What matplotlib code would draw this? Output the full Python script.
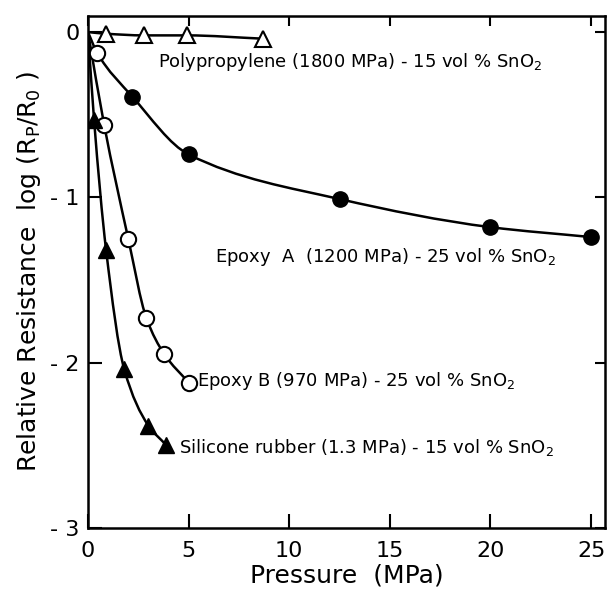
import numpy as np
import matplotlib
matplotlib.use("Agg")
from matplotlib import pyplot as plt
from matplotlib.path import Path
from matplotlib.patches import PathPatch

# pressure (MPa) and log(Rp/R0) for each composite
pp_x = [0, 0.9, 2.8, 4.9, 8.7]
pp_y = [0, -0.01, -0.02, -0.02, -0.04]

epa_x = [0, 0.45, 2.2, 5, 12.5, 20, 25]
epa_y = [0, -0.125, -0.39, -0.74, -1.01, -1.18, -1.24]
epa_open = [False, True, False, False, False, False, False]

epb_x = [0, 0.8, 2.0, 2.9, 3.8, 5.0]
epb_y = [0, -0.56, -1.25, -1.73, -1.95, -2.12]

si_x = [0, 0.3, 0.9, 1.8, 3.0, 3.9]
si_y = [0, -0.53, -1.32, -2.04, -2.38, -2.50]

labels = [
    "Polypropylene (1800 MPa) - 15 vol % SnO$_2$",
    "Epoxy  A  (1200 MPa) - 25 vol % SnO$_2$",
    "Epoxy B (970 MPa) - 25 vol % SnO$_2$",
    "Silicone rubber (1.3 MPa) - 15 vol % SnO$_2$",
]


def smooth_path(x, y):
    # monotone cubic (Fritsch-Carlson) through the points, as bezier segments
    x = np.asarray(x, float)
    y = np.asarray(y, float)
    h = np.diff(x)
    d = np.diff(y) / h
    m = np.zeros_like(x)
    m[0], m[-1] = d[0], d[-1]
    for i in range(1, len(x) - 1):
        if d[i - 1] * d[i] <= 0:
            m[i] = 0
        else:
            w1 = 2 * h[i] + h[i - 1]
            w2 = h[i] + 2 * h[i - 1]
            m[i] = (w1 + w2) / (w1 / d[i - 1] + w2 / d[i])
    verts = [(x[0], y[0])]
    codes = [Path.MOVETO]
    for i in range(len(x) - 1):
        verts += [(x[i] + h[i] / 3, y[i] + m[i] * h[i] / 3),
                  (x[i + 1] - h[i] / 3, y[i + 1] - m[i + 1] * h[i] / 3),
                  (x[i + 1], y[i + 1])]
        codes += [Path.CURVE4] * 3
    return Path(verts, codes)


plt.rcParams["font.family"] = "DejaVu Sans"
fig = plt.figure(figsize=(6.07, 5.98), dpi=100)
ax = fig.add_axes([0.145, 0.117, 0.852, 0.857])

lw = 1.8
for xs, ys in [(pp_x, pp_y), (epa_x, epa_y), (epb_x, epb_y), (si_x, si_y)]:
    ax.add_patch(PathPatch(smooth_path(xs, ys), fill=False, lw=lw,
                           edgecolor="black", zorder=2))

ms = 11
ax.plot(pp_x[1:], pp_y[1:], ls="none", marker="^", ms=ms, mfc="white",
        mec="black", mew=1.5, zorder=3)
ea_x = np.array(epa_x)
ea_y = np.array(epa_y)
ea_open = np.array(epa_open)
ea_fill = ~ea_open
ea_fill[0] = False
ax.plot(ea_x[ea_fill], ea_y[ea_fill], ls="none", marker="o", ms=ms,
        color="black", zorder=3)
ax.plot(ea_x[ea_open], ea_y[ea_open], ls="none", marker="o", ms=ms,
        mfc="white", mec="black", mew=1.5, zorder=3)
ax.plot(epb_x[1:], epb_y[1:], ls="none", marker="o", ms=ms, mfc="white",
        mec="black", mew=1.5, zorder=3)
ax.plot(si_x[1:], si_y[1:], ls="none", marker="^", ms=ms, color="black",
        zorder=3)

fs = 13
ax.text(3.5, -0.18, labels[0], fontsize=fs, va="center")
ax.text(6.3, -1.36, labels[1], fontsize=fs, va="center")
ax.text(5.4, -2.11, labels[2], fontsize=fs, va="center")
ax.text(4.5, -2.51, labels[3], fontsize=fs, va="center")

ax.set_xlim(0, 25.7)
ax.set_ylim(-3, 0.1)
ax.set_xticks([0, 5, 10, 15, 20, 25])
ax.set_yticks([0, -1, -2, -3])
ax.set_yticklabels(["0", "- 1", "- 2", "- 3"])
ax.tick_params(direction="in", length=10, width=1.5, labelsize=16,
               top=True, right=True)
ax.tick_params(axis="x", pad=9)
ax.tick_params(axis="y", pad=6)
for t in ax.xaxis.get_major_ticks():
    t.tick2line.set_markersize(7)
for t in ax.yaxis.get_major_ticks():
    t.tick2line.set_markersize(7)
for s in ax.spines.values():
    s.set_linewidth(1.8)

ax.set_xlabel("Pressure  (MPa)", fontsize=18, labelpad=2)
ax.set_ylabel(r"Relative Resistance  log (R$_\mathregular{P}$/R$_\mathregular{0}$ )",
              fontsize=18, labelpad=5)

fig.savefig("out.png", dpi=100)
